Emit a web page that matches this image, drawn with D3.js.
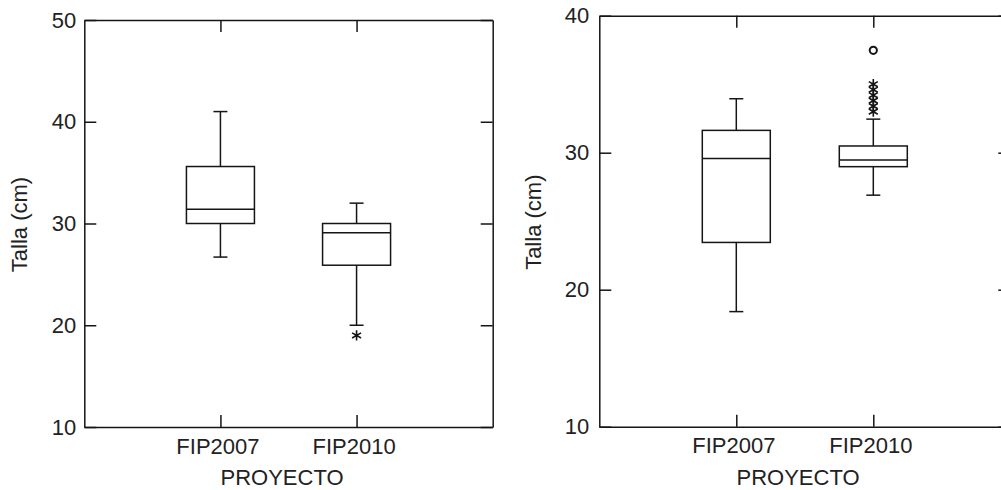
<!DOCTYPE html>
<html>
<head>
<meta charset="utf-8">
<script src="https://cdn.jsdelivr.net/npm/d3@7"></script>
<style>
  html, body { margin: 0; padding: 0; background: #fff; }
  svg { display: block; }
  text { font-family: "Liberation Sans", Arial, sans-serif; fill: #222; }
</style>
</head>
<body>
<div id="chart"></div>
<script>
// ---- data ----
const categories = ["FIP2007", "FIP2010"];
const xTitle = "PROYECTO";
const yTitle = "Talla (cm)";

const leftTicks = [10, 20, 30, 40, 50];
const leftLow   = [26.7, 20.0];
const leftQ1    = [30.0, 25.9];
const leftMed   = [31.4, 29.1];
const leftQ3    = [35.6, 30.0];
const leftHigh  = [41.0, 32.0];
const leftStars   = [[], [19.0]];
const leftCircles = [[], []];

const rightTicks = [10, 20, 30, 40];
const rightLow   = [18.4, 26.9];
const rightQ1    = [23.45, 28.98];
const rightMed   = [29.58, 29.46];
const rightQ3    = [31.63, 30.49];
const rightHigh  = [33.94, 32.45];
const rightStars   = [[], [33.0, 33.4, 33.8, 34.2, 34.6, 35.0]];
const rightCircles = [[], [37.47]];

// ---- drawing ----
const W = 1001, H = 490;
const svg = d3.select("#chart").append("svg").attr("width", W).attr("height", H);

const INK = "#151515";

function drawPanel(cfg) {
  const g = svg.append("g");
  const x = d3.scalePoint().domain(categories).range([cfg.left, cfg.right]).padding(1);
  const y = d3.scaleLinear().domain(cfg.domain).range([cfg.bottom, cfg.top]);

  const styleAxis = sel => {
    sel.select(".domain").attr("stroke", INK).attr("stroke-width", 1.5);
    sel.selectAll(".tick line").attr("stroke", INK).attr("stroke-width", 1.5);
    sel.selectAll(".tick text").attr("font-size", 22).attr("fill", "#222")
      .attr("font-family", "'Liberation Sans', Arial, sans-serif");
  };

  g.append("g").attr("transform", `translate(${cfg.left},0)`)
    .call(d3.axisLeft(y).tickValues(cfg.ticks).tickSize(-12).tickSizeOuter(0)
      .tickPadding(cfg.pad).tickFormat(d3.format("d")))
    .call(styleAxis);
  g.append("g").attr("transform", `translate(${cfg.right},0)`)
    .call(d3.axisRight(y).tickValues(cfg.ticks).tickSize(-12).tickSizeOuter(0).tickFormat(() => ""))
    .call(styleAxis);
  g.append("g").attr("transform", `translate(0,${cfg.top})`)
    .call(d3.axisTop(x).tickSize(-12).tickSizeOuter(0).tickFormat(() => ""))
    .call(styleAxis);
  const xb = g.append("g").attr("transform", `translate(0,${cfg.bottom})`)
    .call(d3.axisBottom(x).tickSize(-12).tickSizeOuter(0).tickPadding(11))
    .call(styleAxis);
  xb.selectAll(".tick text").attr("dx", -3);

  const boxW = 68, capW = 14;
  const idx = d3.range(categories.length);
  const cx = i => x(categories[i]);

  // whiskers
  g.selectAll(".wlow").data(idx).join("line")
    .attr("x1", cx).attr("x2", cx)
    .attr("y1", i => y(cfg.q1[i])).attr("y2", i => y(cfg.low[i]))
    .attr("stroke", INK).attr("stroke-width", 1.5);
  g.selectAll(".whigh").data(idx).join("line")
    .attr("x1", cx).attr("x2", cx)
    .attr("y1", i => y(cfg.q3[i])).attr("y2", i => y(cfg.high[i]))
    .attr("stroke", INK).attr("stroke-width", 1.5);
  [cfg.low, cfg.high].forEach(arr => {
    g.append("g").selectAll("line").data(idx).join("line")
      .attr("x1", i => cx(i) - capW / 2).attr("x2", i => cx(i) + capW / 2)
      .attr("y1", i => y(arr[i])).attr("y2", i => y(arr[i]))
      .attr("stroke", INK).attr("stroke-width", 1.5);
  });
  // boxes
  g.append("g").selectAll("rect").data(idx).join("rect")
    .attr("x", i => cx(i) - boxW / 2).attr("width", boxW)
    .attr("y", i => y(cfg.q3[i])).attr("height", i => y(cfg.q1[i]) - y(cfg.q3[i]))
    .attr("fill", "none").attr("stroke", INK).attr("stroke-width", 1.5);
  g.append("g").selectAll("line").data(idx).join("line")
    .attr("x1", i => cx(i) - boxW / 2).attr("x2", i => cx(i) + boxW / 2)
    .attr("y1", i => y(cfg.med[i])).attr("y2", i => y(cfg.med[i]))
    .attr("stroke", INK).attr("stroke-width", 1.5);

  // outliers
  const stars = [];
  cfg.stars.forEach((arr, i) => arr.forEach(v => stars.push({ i, v })));
  g.append("g").selectAll("path").data(stars).join("path")
    .attr("transform", d => `translate(${cx(d.i)},${y(d.v)})`)
    .attr("d", d3.symbol().type(d3.symbolAsterisk).size(75))
    .attr("fill", "none").attr("stroke", INK).attr("stroke-width", 1.6);
  const circles = [];
  cfg.circles.forEach((arr, i) => arr.forEach(v => circles.push({ i, v })));
  g.append("g").selectAll("circle").data(circles).join("circle")
    .attr("cx", d => cx(d.i)).attr("cy", d => y(d.v)).attr("r", 3.6)
    .attr("fill", "none").attr("stroke", INK).attr("stroke-width", 2);

  // titles
  g.append("text").attr("x", cfg.xTitleX).attr("y", 485)
    .attr("text-anchor", "middle").attr("font-size", 22).text(xTitle);
  g.append("text")
    .attr("transform", `translate(${cfg.yTitleX},${(cfg.top + cfg.bottom) / 2 + 1}) rotate(-90)`)
    .attr("text-anchor", "middle").attr("font-size", 22).text(yTitle);
}

drawPanel({
  left: 84.3, right: 492.7, top: 20, bottom: 427, domain: [10, 50], ticks: leftTicks, pad: 8,
  low: leftLow, q1: leftQ1, med: leftMed, q3: leftQ3, high: leftHigh,
  stars: leftStars, circles: leftCircles, xTitleX: 282, yTitleX: 27
});
drawPanel({
  left: 599.3, right: 1010.3, top: 15.7, bottom: 426.7, domain: [10, 40], ticks: rightTicks, pad: 10,
  low: rightLow, q1: rightQ1, med: rightMed, q3: rightQ3, high: rightHigh,
  stars: rightStars, circles: rightCircles, xTitleX: 798, yTitleX: 541
});
</script>
</body>
</html>
